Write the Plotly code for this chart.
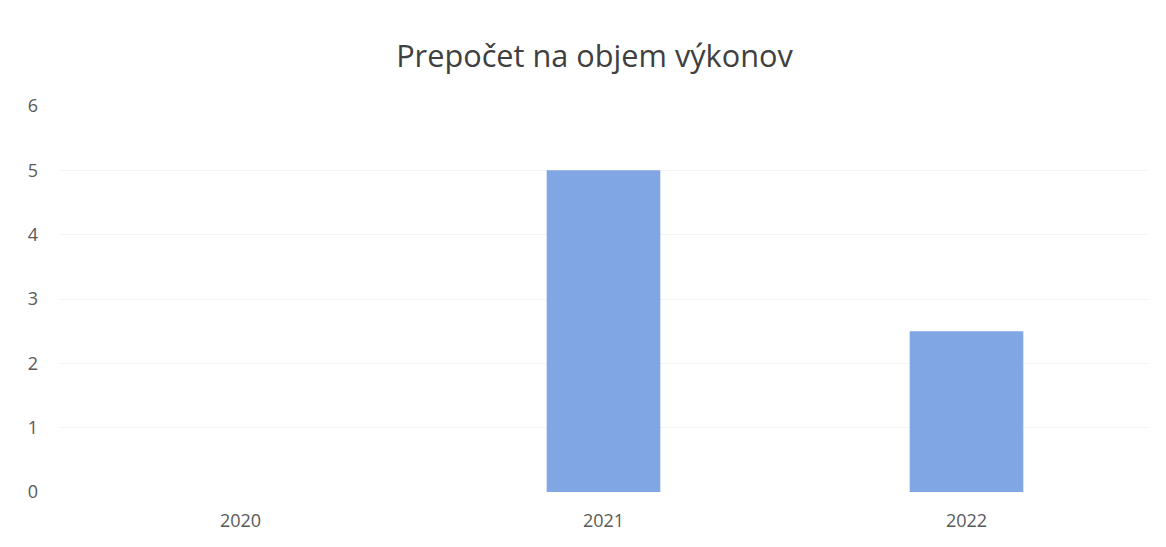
import plotly.graph_objects as go

categories = ["2020", "2021", "2022"]
values = [0, 5, 2.5]
y_ticks = [0, 1, 2, 3, 4, 5, 6]

fig = go.Figure()
fig.add_trace(go.Bar(
    x=categories, y=values,
    marker=dict(color="#80A6E3", line=dict(width=0)),
    width=0.313,
))

fig.update_layout(
    width=1166, height=547,
    paper_bgcolor="white", plot_bgcolor="white",
    margin=dict(l=51, r=26, t=98, b=63),
    title=dict(text="Prepočet na objem výkonov", x=0.503, xanchor="center",
               y=0.912, yanchor="middle",
               font=dict(family="Open Sans, Liberation Sans, sans-serif", size=30.7, color="#404040")),
    font=dict(family="Open Sans, Liberation Sans, sans-serif", size=18, color="#595959"),
    showlegend=False,
)
fig.update_xaxes(type="category", showgrid=False, showline=False, ticks="",
                 ticklabelstandoff=16,
                 tickfont=dict(size=18, color="#595959"))
fig.update_yaxes(range=[0, 6], tickvals=y_ticks, showgrid=True, gridcolor="#F4F4F4",
                 gridwidth=1, zeroline=False, showline=False, ticks="",
                 ticklabelstandoff=20,
                 tickfont=dict(size=18, color="#595959"))

fig.write_html("out.html")
